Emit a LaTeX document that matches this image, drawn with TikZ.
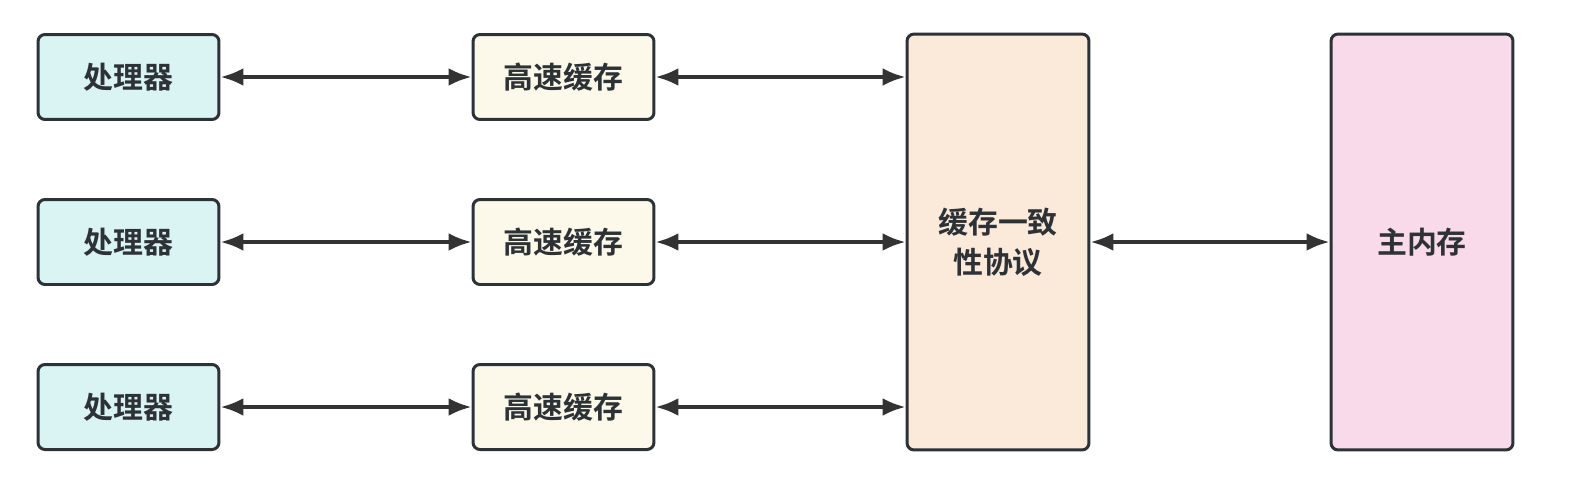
\documentclass[tikz,border=0pt]{standalone}
\usepackage{fontspec}
\setmainfont{Noto Sans CJK SC}[BoldFont={* Bold}]
\usetikzlibrary{arrows.meta}
\definecolor{edgegray}{HTML}{2D3236}
\definecolor{linegray}{HTML}{333333}
\definecolor{procfill}{HTML}{DAF4F4}
\definecolor{cachefill}{HTML}{FDF9EA}
\definecolor{protofill}{HTML}{FBE9DA}
\definecolor{memfill}{HTML}{F9DAEA}
\tikzset{>={Latex[length=0.46cm,width=0.36cm]}}
\tikzstyle{unit}=[rectangle,draw=edgegray,line width=0.06cm,rounded corners=0.14cm,font=\bfseries\fontsize{17}{23}\selectfont,text=edgegray,align=center,inner sep=0pt]
\tikzstyle{link}=[<->,draw=linegray,line width=0.075cm]

\begin{document}
\begin{tikzpicture}[x=0.02cm,y=-0.02cm]
	\useasboundingbox (0,0) rectangle (1579,491);

	\node[unit,fill=procfill,minimum width=3.62cm,minimum height=1.7cm] (proc1) at (128.5,77) {处理器};
	\node[unit,fill=procfill,minimum width=3.62cm,minimum height=1.7cm] (proc2) at (128.5,242) {处理器};
	\node[unit,fill=procfill,minimum width=3.62cm,minimum height=1.7cm] (proc3) at (128.5,407) {处理器};

	\node[unit,fill=cachefill,minimum width=3.62cm,minimum height=1.7cm] (cache1) at (563.5,77) {高速缓存};
	\node[unit,fill=cachefill,minimum width=3.62cm,minimum height=1.7cm] (cache2) at (563.5,242) {高速缓存};
	\node[unit,fill=cachefill,minimum width=3.62cm,minimum height=1.7cm] (cache3) at (563.5,407) {高速缓存};

	\node[unit,fill=protofill,minimum width=3.64cm,minimum height=8.32cm] (proto) at (998,242) {缓存一致\\性协议};
	\node[unit,fill=memfill,minimum width=3.64cm,minimum height=8.32cm] (mem) at (1422,242) {主内存};

	\draw[link] (proc1) -- (cache1);
	\draw[link] (proc2) -- (cache2);
	\draw[link] (proc3) -- (cache3);

	\draw[link] (cache1) -- (cache1 -| proto.west);
	\draw[link] (cache2) -- (cache2 -| proto.west);
	\draw[link] (cache3) -- (cache3 -| proto.west);

	\draw[link] (proto) -- (mem);
\end{tikzpicture}
\end{document}
